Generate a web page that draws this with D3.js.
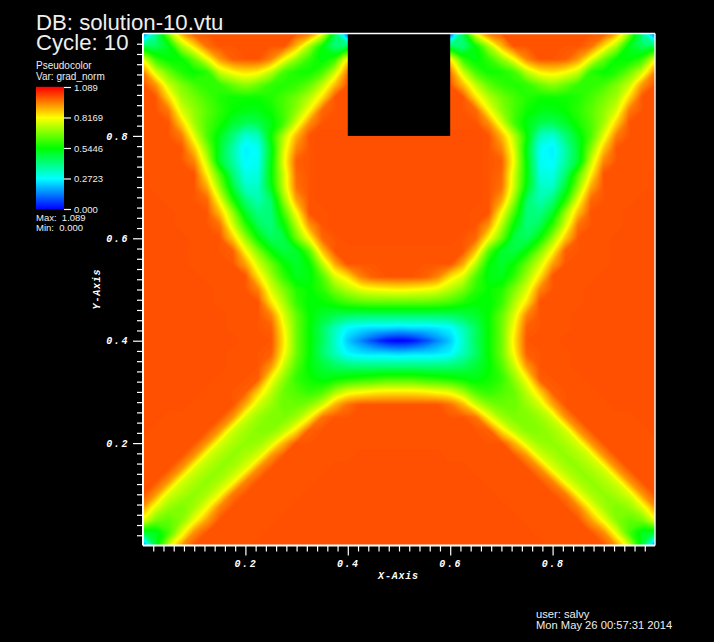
<!DOCTYPE html>
<html><head><meta charset="utf-8">
<script src="https://cdn.jsdelivr.net/npm/d3@7"></script>
<style>html,body{margin:0;padding:0;background:#000}svg{display:block}</style>
</head><body><svg id="c" width="714" height="642"></svg>
<script>
// grad_norm x100. Rows run y = 0 .. 1, columns x = 0 .. 0.5 in steps of 0.025; the field is mirror-symmetric about x = 0.5.
const gradRows = [
[10,48,75,92,100,100,100,100,100,101,101,101,101,101,101,101,101,101,101,101,101],
[48,52,62,79,94,100,100,100,100,100,101,101,101,101,101,101,101,101,101,101,101],
[79,68,65,69,80,92,100,100,100,100,100,101,101,101,101,101,101,101,101,101,101],
[93,79,71,68,72,81,95,100,100,100,100,100,101,101,101,101,101,101,101,101,101],
[100,93,78,73,70,73,81,96,100,100,100,100,100,101,101,101,101,101,101,101,101],
[100,100,93,78,73,70,73,80,95,100,100,100,100,100,101,101,101,101,101,101,101],
[100,100,100,93,78,73,70,73,79,94,100,100,100,100,100,101,101,101,101,101,101],
[100,100,100,100,93,78,73,70,73,78,93,100,100,100,100,100,100,101,101,101,101],
[100,100,100,100,100,93,78,73,70,71,77,90,100,100,100,100,100,100,100,100,100],
[101,100,100,100,100,100,93,77,72,69,69,74,85,99,100,100,100,100,100,100,100],
[101,101,100,100,100,100,100,93,77,71,68,68,72,82,97,100,100,100,100,100,100],
[101,101,101,101,100,100,100,100,91,77,71,66,66,69,77,90,97,100,100,100,100],
[101,101,101,101,101,100,100,100,99,87,75,66,63,60,63,72,79,81,83,84,84],
[101,101,101,101,101,101,100,100,100,99,82,70,60,56,53,55,57,59,60,62,62],
[101,101,101,101,101,101,101,100,100,100,93,76,63,54,49,45,43,42,42,42,42],
[101,101,101,101,101,101,101,100,100,100,99,82,66,55,44,35,27,25,24,24,23],
[101,101,101,101,101,101,101,101,100,100,100,84,66,55,45,33,22,15,8,2,0],
[101,101,101,101,101,101,101,100,100,100,99,82,66,55,45,35,27,25,24,24,23],
[101,101,101,101,101,101,101,100,100,100,95,78,65,55,50,47,45,44,44,44,44],
[101,101,101,101,101,101,100,100,100,100,85,73,60,54,55,58,62,64,65,65,65],
[101,101,101,101,101,101,100,100,100,95,78,68,58,55,59,68,74,79,81,82,83],
[101,101,101,101,101,100,100,100,100,85,72,60,52,53,63,78,85,95,99,100,100],
[101,101,101,101,100,100,100,100,92,77,66,55,50,55,74,91,100,100,100,100,100],
[101,101,101,101,100,100,100,99,82,68,55,48,50,64,88,100,100,100,100,100,100],
[101,101,101,101,100,100,100,88,71,55,45,47,66,82,98,100,101,101,101,101,101],
[101,101,101,100,100,100,97,78,60,46,42,54,74,93,100,101,101,101,101,101,101],
[101,101,101,100,100,100,89,71,50,41,42,62,82,100,100,101,101,101,101,101,101],
[101,101,100,100,100,98,80,58,42,36,44,70,92,100,101,101,101,101,101,101,101],
[101,100,100,100,100,91,70,49,34,34,52,76,97,100,101,101,101,101,101,101,101],
[101,100,100,100,100,83,63,43,30,31,54,77,98,100,101,101,101,101,101,101,101],
[100,100,100,100,95,76,50,38,27,29,53,80,99,100,101,101,101,101,101,101,101],
[100,100,100,100,88,69,50,37,26,29,52,78,95,100,101,101,101,101,101,101,101],
[100,100,100,96,79,63,52,42,32,35,55,74,90,100,101,101,101,101,101,101,101],
[100,100,100,87,72,63,57,50,46,47,53,62,78,94,100,100,100,100,100,100,100],
[100,100,96,78,70,64,59,55,53,53,56,62,70,82,98,100,100,100,100,100,100],
[100,100,86,72,67,62,58,56,56,56,58,62,67,74,85,100,100,100,100,100,100],
[100,93,76,68,62,59,60,66,70,66,60,58,60,65,75,89,100,100,100,100,100],
[95,77,66,58,55,59,76,82,85,83,75,62,57,56,62,76,96,96,96,96,96],
[78,60,54,55,66,80,93,99,100,100,95,82,70,60,53,60,82,82,82,82,82],
[45,45,52,72,85,97,100,100,100,100,100,100,89,72,55,42,45,45,45,45,45],
[10,38,68,90,100,100,100,100,100,100,100,100,100,97,80,45,10,10,10,10,10]
];
const gridStep = 0.025;
const xMajor = [0.2,0.4,0.6,0.8];
const yMajor = [0.2,0.4,0.6,0.8];
const barValues = [0,0.2723,0.5446,0.8169,1.089];
const barLabels = ["0.000","0.2723","0.5446","0.8169","1.089"];
const colorStops = ["#0000ff","#00ffff","#00ff00","#ffff00","#ff0000"];
const holeX = [0.4,0.6];
const holeY = [0.8,1.0];
const dataMax = 1.089;
const titleLines = ["DB: solution-10.vtu","Cycle: 10"];
const legendHead = ["Pseudocolor","Var: grad_norm"];
const legendFoot = ["Max:  1.089","Min:  0.000"];
const userLines = ["user: salvy","Mon May 26 00:57:31 2014"];

const svg = d3.select("#c");
const L=143,R=655,T=33.5,B=545.5;
const x = d3.scaleLinear().domain([0,1]).range([L,R]);
const y = d3.scaleLinear().domain([0,1]).range([B,T]);
const color = d3.scaleLinear().domain(colorStops.map((c,i)=>dataMax*i/4)).range(colorStops).clamp(true);

svg.append("defs").append("clipPath").attr("id","plot").append("rect").attr("x",L).attr("y",T).attr("width",R-L).attr("height",B-T);

const fullRows = gradRows.map(r=>r.concat(r.slice(0,-1).reverse()));
const nx = fullRows[0].length, ny = fullRows.length;
const values = new Float64Array(nx*ny);
fullRows.forEach((r,j)=>r.forEach((v,i)=>{values[j*nx+i]=v/100;}));
const thresholds = d3.range(0,1.0051,0.005);
const contours = d3.contours().size([nx,ny]).thresholds(thresholds).smooth(true)(values);
const ringLine = d3.line()
  .x(p=>x((p[0]-0.5)*gridStep))
  .y(p=>y((p[1]-0.5)*gridStep))
  .curve(d3.curveCatmullRomClosed.alpha(0.5));
const field = svg.append("g").attr("clip-path","url(#plot)");
field.selectAll("path").data(contours).join("path")
  .attr("d",d=>d.coordinates.map(poly=>poly.map(ring=>ringLine(ring.slice(0,-1))).join("")).join(""))
  .attr("fill-rule","evenodd")
  .attr("fill",d=>color(d.value));

// hole
svg.append("rect").attr("x",x(holeX[0])).attr("y",y(holeY[1])).attr("width",x(holeX[1])-x(holeX[0])).attr("height",y(holeY[0])-y(holeY[1])).attr("fill","#000");

// axes
const axisFont = "italic bold 10px 'Liberation Mono'";
function styleAxis(g){g.select(".domain").remove();g.selectAll("line").attr("stroke","#fff").attr("stroke-width",1.2);}
const minor = d3.range(1,50).map(i=>i*0.02).filter(v=>!xMajor.some(m=>Math.abs(m-v)<1e-6));
svg.append("g").attr("transform",`translate(0,${B})`).call(d3.axisBottom(x).tickValues(minor).tickSize(6).tickFormat("")).call(styleAxis);
svg.append("g").attr("transform",`translate(${L},0)`).call(d3.axisLeft(y).tickValues(minor).tickSize(6).tickFormat("")).call(styleAxis);
const xa = svg.append("g").attr("transform",`translate(0,${B})`).call(d3.axisBottom(x).tickValues(xMajor).tickSize(10).tickPadding(4).tickFormat(d3.format(".1f"))).call(styleAxis);
xa.selectAll("text").attr("fill","#fff").style("font",axisFont).style("letter-spacing","1.6px");
const ya = svg.append("g").attr("transform",`translate(${L},0)`).call(d3.axisLeft(y).tickValues(yMajor).tickSize(10).tickPadding(4).tickFormat(d3.format(".1f"))).call(styleAxis);
ya.selectAll("text").attr("fill","#fff").style("font",axisFont).style("letter-spacing","1.6px");
// frame
[[L,T,R,T,1.4],[R,T,R,B,1.4],[L,B,R,B,2],[L,T,L,B,2]].forEach(s=>svg.append("line").attr("x1",s[0]).attr("y1",s[1]).attr("x2",s[2]).attr("y2",s[3]).attr("stroke","#fff").attr("stroke-width",s[4]));
svg.append("text").attr("x",398.5).attr("y",579).attr("text-anchor","middle").attr("fill","#fff").style("font",axisFont).style("letter-spacing","0.8px").text("X-Axis");
svg.append("text").attr("transform","translate(100,289) rotate(-90)").attr("text-anchor","middle").attr("fill","#fff").style("font",axisFont).style("letter-spacing","0.8px").text("Y-Axis");

// colour bar
const barY = d3.scaleLinear().domain([0,dataMax]).range([209,87]);
const barCells = d3.range(0,122).map(i=>i/122*dataMax);
svg.append("g").selectAll("rect").data(barCells).join("rect")
  .attr("x",36).attr("width",28).attr("y",d=>barY(d)-1.2).attr("height",1.4).attr("fill",d=>color(d+dataMax/244));
const bar = svg.append("g").attr("transform","translate(64,0)").call(d3.axisRight(barY).tickValues(barValues).tickSize(7).tickPadding(3).tickFormat((d,i)=>barLabels[i]));
bar.select(".domain").remove();
bar.selectAll("line").attr("stroke","#fff").attr("stroke-width",1.2);
bar.selectAll("text").attr("fill","#eee").style("font","9.5px 'Liberation Sans'");

function lines(arr,xp,ys,size){arr.forEach((t,i)=>svg.append("text").attr("x",xp).attr("y",ys[i]).attr("fill","#eee").attr("xml:space","preserve").style("white-space","pre").style("font",size+"px 'Liberation Sans'").text(t));}
lines(titleLines,36,[30,50],22.2);
lines(legendHead,36,[69,80],10);
lines(legendFoot,36,[221,231],9.5);
lines(userLines,536,[618,628.7],11.2);
</script></body></html>
